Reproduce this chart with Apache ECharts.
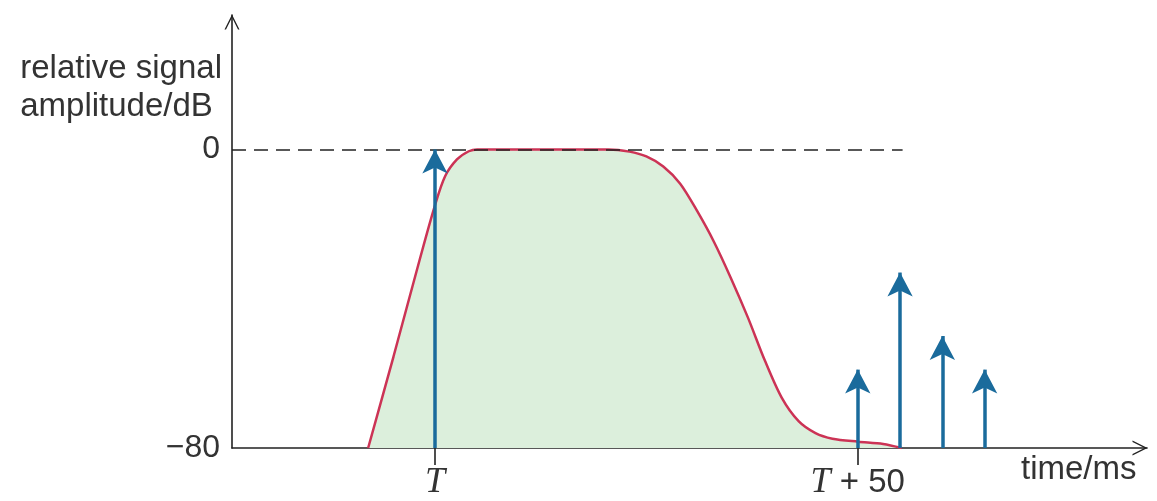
<!DOCTYPE html>
<html lang="en">
  <head>
    <meta charset="UTF-8" />
    <script src="https://cdn.jsdelivr.net/npm/echarts@6/dist/echarts.min.js"></script>
    <title>Masking</title>
    <style>
      html, body { margin: 0; padding: 0; background: #fff; }
      #chart { width: 1157px; height: 501px; }
    </style>
  </head>
  <body>
    <div id="chart"></div>
  </body>

  <script>
    // time in ms relative to T, level in dB
    const curveTimes = [-7.9, -4.9, -1.8, 0, 1.2, 2.6, 4, 5, 20.5, 23, 25, 27, 29, 31, 33, 35, 37, 39, 41, 43, 45, 47, 50, 53, 55.2];
    const curveLevels = [-80, -55.5, -29.5, -15, -7.2, -2.7, -0.5, 0, 0, -0.6, -1.9, -4.6, -9.2, -16.5, -24.8, -34.5, -45, -56.5, -66.5, -72.8, -76, -77.5, -78.3, -78.9, -80];

    const impulseTimes = [0, 50, 55, 60, 65];
    const impulseLevels = [0, -59, -33, -50, -59];

    const tickTimes = [0, 50];
    const tickNames = ['{t|T}', '{t|T} + 50'];
    const levelLabels = [0, -80];
    const referenceEnd = 55.3;

    const textColor = '#333';
    const font = 'Liberation Sans, Arial, sans-serif';
    const chevron = 'path://M0,14 L7,0 L14,14 L12.6,14 L7,2.8 L1.4,14 Z';

    const myChart = echarts.init(document.getElementById('chart'));

    const option = {
      animation: false,
      grid: { left: 232, right: 10, top: 15, bottom: 51 },
      xAxis: {
        type: 'value',
        min: -24,
        max: 84.2,
        splitLine: { show: false },
        axisLine: {
          onZero: false,
          lineStyle: { color: '#222', width: 1.6 },
          symbol: ['none', chevron],
          symbolSize: [15, 16],
          symbolOffset: [0, -7]
        },
        axisTick: {
          customValues: tickTimes,
          inside: false,
          length: 17,
          lineStyle: { color: '#222', width: 1.6 }
        },
        axisLabel: {
          customValues: tickTimes,
          margin: 17,
          color: textColor,
          fontFamily: font,
          fontSize: 33,
          formatter: (v) => tickNames[tickTimes.indexOf(v)],
          rich: {
            t: { fontFamily: 'Liberation Serif, serif', fontStyle: 'italic', fontSize: 36, color: textColor }
          }
        }
      },
      yAxis: {
        type: 'value',
        min: -80,
        max: 36,
        splitLine: { show: false },
        axisLine: {
          show: true,
          onZero: false,
          lineStyle: { color: '#222', width: 1.6 },
          symbol: ['none', chevron],
          symbolSize: [15, 16],
          symbolOffset: [0, -7]
        },
        axisTick: { show: false },
        axisLabel: {
          customValues: levelLabels,
          margin: 12,
          color: textColor,
          fontFamily: font,
          fontSize: 32,
          formatter: (v) => String(v).replace('-', '\u2212')
        }
      },
      graphic: [
        {
          type: 'text', right: 1157 - 222, top: 50,
          style: { text: 'relative signal\namplitude/dB', align: 'right', fill: textColor, font: '33px ' + font, lineHeight: 38 }
        },
        {
          type: 'text', left: 1021, top: 453,
          style: { text: 'time/ms', fill: textColor, font: '33px ' + font }
        },
        {
          type: 'text', left: 456, top: 268,
          style: { text: 'inaudible signal\namplitudes', align: 'center', fill: textColor, font: '33px ' + font, lineHeight: 37 }
        }
      ],
      series: [
        {
          type: 'line',
          data: curveTimes.map((t, i) => [t, curveLevels[i]]),
          smooth: 0.3,
          showSymbol: false,
          lineStyle: { color: '#cc3355', width: 2.5 },
          areaStyle: { color: '#dcefdc', opacity: 1, origin: 'start' },
          z: 2,
          markLine: {
            silent: true,
            symbol: 'none',
            label: { show: false },
            lineStyle: { color: '#222', type: [14, 8], width: 1.5 },
            data: [[{ coord: [-24, levelLabels[0]] }, { coord: [referenceEnd, levelLabels[0]] }]]
          }
        },
        {
          type: 'line',
          data: [],
          z: 5,
          markLine: {
            silent: true,
            symbol: ['none', 'arrow'],
            symbolSize: [19, 24],
            label: { show: false },
            lineStyle: { color: '#1a6b9c', type: 'solid', width: 3.5 },
            data: impulseTimes.map((t, i) => [{ coord: [t, -80] }, { coord: [t, impulseLevels[i]] }])
          }
        }
      ]
    };
    myChart.setOption(option);
  </script>
</html>
